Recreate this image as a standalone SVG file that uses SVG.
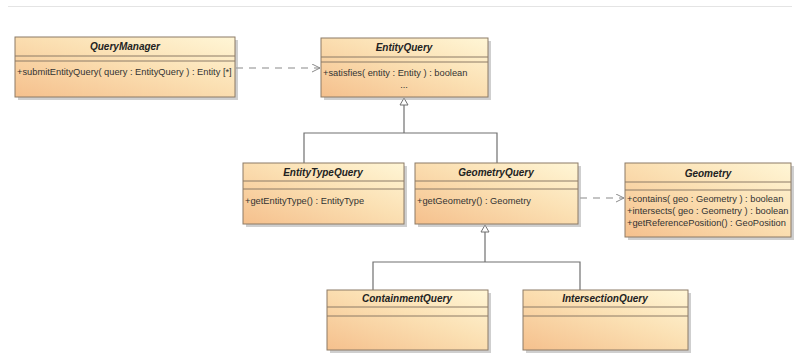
<svg xmlns="http://www.w3.org/2000/svg" width="800" height="355" viewBox="0 0 800 355">
<defs>
<linearGradient id="fillG" x1="0" y1="1" x2="1" y2="0">
<stop offset="0" stop-color="#f5c08d"/>
<stop offset="0.55" stop-color="#fbe0b3"/>
<stop offset="1" stop-color="#fff6d6"/>
</linearGradient>
<marker id="openArrow" markerWidth="10" markerHeight="10" refX="8" refY="4" orient="auto" markerUnits="userSpaceOnUse">
<path d="M0,0 L8,4 L0,8" fill="none" stroke="#8a8a8a" stroke-width="1"/>
</marker>
</defs>
<style>
.shadow{fill:#a8a8a8;opacity:0.55}
.box{fill:url(#fillG);stroke:#8c7b66;stroke-width:1}
.div{stroke:#8c7b66;stroke-width:1}
.title{font-family:"Liberation Sans",Arial,sans-serif;font-size:10px;font-weight:bold;font-style:italic;fill:#222;text-anchor:middle}
.op{font-family:"Liberation Sans",Arial,sans-serif;font-size:9.3px;fill:#333}
.gen{fill:none;stroke:#707070;stroke-width:1.2}
.dep{fill:none;stroke:#8a8a8a;stroke-width:1.2;stroke-dasharray:7,6}
.tri{fill:#ffffff;stroke:#707070;stroke-width:1}
</style>
<rect x="0" y="0" width="800" height="355" fill="#ffffff"/>
<line x1="8" y1="6.5" x2="792" y2="6.5" stroke="#e4e4e4" stroke-width="1"/>

<g id="connectors">
<path class="dep" d="M236,68 L320,68" marker-end="url(#openArrow)"/>
<path class="dep" d="M580,198 L624,198" marker-end="url(#openArrow)"/>
<path class="gen" d="M304,163 L304,133 L497,133 L497,163"/>
<path class="gen" d="M404,133 L404,105"/>
<path class="tri" d="M404,98 L400,105 L408,105 Z"/>
<path class="gen" d="M373,290 L373,262 L580,262 L580,290"/>
<path class="gen" d="M485,262 L485,232"/>
<path class="tri" d="M485,225 L481,232 L489,232 Z"/>
</g>

<g id="QueryManager">
<rect class="shadow" x="18" y="40" width="220" height="60"/>
<rect class="box" x="15" y="37" width="220" height="60"/>
<line class="div" x1="15" y1="56" x2="235" y2="56"/>
<line class="div" x1="15" y1="61" x2="235" y2="61"/>
<text class="title" x="125" y="50">QueryManager</text>
<text class="op" x="17" y="75">+submitEntityQuery( query : EntityQuery ) : Entity [*]</text>
</g>

<g id="EntityQuery">
<rect class="shadow" x="324" y="41" width="167" height="59"/>
<rect class="box" x="321" y="38" width="167" height="59"/>
<line class="div" x1="321" y1="57" x2="488" y2="57"/>
<line class="div" x1="321" y1="62" x2="488" y2="62"/>
<text class="title" x="404" y="51">EntityQuery</text>
<text class="op" x="323" y="76">+satisfies( entity : Entity ) : boolean</text>
<text class="op" x="404" y="88" text-anchor="middle" fill="#888">...</text>
</g>

<g id="EntityTypeQuery">
<rect class="shadow" x="246" y="166" width="161" height="61"/>
<rect class="box" x="243" y="163" width="161" height="61"/>
<line class="div" x1="243" y1="181" x2="404" y2="181"/>
<line class="div" x1="243" y1="189" x2="404" y2="189"/>
<text class="title" x="323" y="176">EntityTypeQuery</text>
<text class="op" x="245" y="204">+getEntityType() : EntityType</text>
</g>

<g id="GeometryQuery">
<rect class="shadow" x="418" y="166" width="163" height="61"/>
<rect class="box" x="415" y="163" width="163" height="61"/>
<line class="div" x1="415" y1="181" x2="578" y2="181"/>
<line class="div" x1="415" y1="189" x2="578" y2="189"/>
<text class="title" x="496" y="176">GeometryQuery</text>
<text class="op" x="417" y="204">+getGeometry() : Geometry</text>
</g>

<g id="Geometry">
<rect class="shadow" x="628" y="166" width="166" height="74"/>
<rect class="box" x="625" y="163" width="166" height="74"/>
<line class="div" x1="625" y1="182" x2="791" y2="182"/>
<line class="div" x1="625" y1="190" x2="791" y2="190"/>
<text class="title" x="708" y="177">Geometry</text>
<text class="op" x="627" y="202">+contains( geo : Geometry ) : boolean</text>
<text class="op" x="627" y="214">+intersects( geo : Geometry ) : boolean</text>
<text class="op" x="627" y="226">+getReferencePosition() : GeoPosition</text>
</g>

<g id="ContainmentQuery">
<rect class="shadow" x="330" y="293" width="161" height="60"/>
<rect class="box" x="327" y="290" width="161" height="60"/>
<line class="div" x1="327" y1="307" x2="488" y2="307"/>
<line class="div" x1="327" y1="316" x2="488" y2="316"/>
<text class="title" x="407" y="302">ContainmentQuery</text>
</g>

<g id="IntersectionQuery">
<rect class="shadow" x="526" y="293" width="165" height="60"/>
<rect class="box" x="523" y="290" width="165" height="60"/>
<line class="div" x1="523" y1="307" x2="688" y2="307"/>
<line class="div" x1="523" y1="316" x2="688" y2="316"/>
<text class="title" x="605" y="302">IntersectionQuery</text>
</g>
</svg>
